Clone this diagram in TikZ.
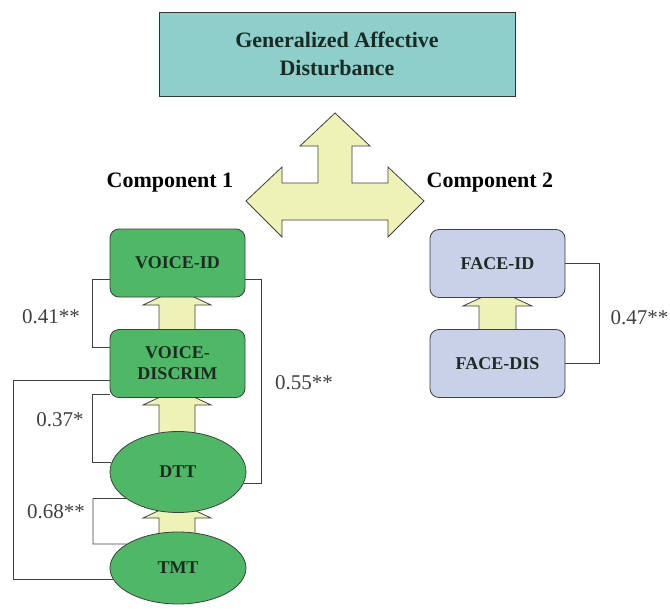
\documentclass[tikz,border=0pt]{standalone}
\usepackage{fontspec}
\setmainfont{Liberation Serif}
\usetikzlibrary{shapes.geometric}

\definecolor{gadteal}{HTML}{8FCFCB}
\definecolor{compgreen}{HTML}{4FB866}
\definecolor{facelav}{HTML}{C9D1E9}
\definecolor{arrowyel}{HTML}{EEF2B6}
\definecolor{inkdark}{HTML}{1C2A24}

\tikzset{
  blk/.style={draw=black!75,fill=arrowyel,line width=0.8pt,line join=miter},
  link/.style={draw=black!75,line width=0.9pt},
  coef/.style={text=black!75,font=\fontsize{21}{24}\selectfont}
}

\begin{document}
\begin{tikzpicture}[x=1pt,y=-1pt]
  \useasboundingbox (0,0) rectangle (670,613);

  % block arrows, behind the boxes
  \draw[blk] (335,113) -- (370,146) -- (352,146) -- (352,183) -- (388,183)
    -- (388,167) -- (424,201) -- (388,237) -- (388,220) -- (282,220)
    -- (282,237) -- (246,201) -- (282,167) -- (282,183) -- (318,183)
    -- (318,146) -- (300,146) -- cycle;
  \draw[blk] (159,334) -- (159,305) -- (143,305) -- (177,289) -- (211,305)
    -- (195,305) -- (195,334) -- cycle;
  \draw[blk] (159,438) -- (159,405) -- (143,405) -- (177,389) -- (211,405)
    -- (195,405) -- (195,438) -- cycle;
  \draw[blk] (159,540) -- (159,518) -- (143,518) -- (177,502) -- (211,518)
    -- (195,518) -- (195,540) -- cycle;
  \draw[blk] (479,334) -- (479,306) -- (463,306) -- (497.5,290) -- (532,306)
    -- (516,306) -- (516,334) -- cycle;

  \node[draw=black!80,fill=gadteal,line width=0.9pt,minimum width=356pt,
        minimum height=84pt,align=center,text=inkdark,
        font=\fontsize{22}{28}\selectfont\bfseries] (gad) at (337,54)
    {Generalized Affective\\Disturbance};

  \begin{scope}[every node/.style={font=\fontsize{22}{26}\selectfont\bfseries}]
    \node (comp1) at (170,183) {Component 1};
    \node (comp2) at (490,183) {Component 2};
  \end{scope}

  \begin{scope}[every node/.style={draw=black!75,line width=0.8pt,rounded corners=9pt,
      minimum width=135pt,minimum height=68pt,align=center,
      font=\fontsize{18}{21}\selectfont\bfseries}]
    \node[fill=compgreen,text=inkdark] (vid)  at (177.5,263)   {VOICE-ID};
    \node[fill=compgreen,text=inkdark] (vdis) at (177.5,363.5) {VOICE-\\DISCRIM};
    \node[fill=facelav,text=inkdark]   (fid)  at (497.5,263.5) {FACE-ID};
    \node[fill=facelav,text=inkdark]   (fdis) at (497.5,363.5) {FACE-DIS};
  \end{scope}

  \begin{scope}[every node/.style={draw=black!75,line width=0.8pt,ellipse,
      fill=compgreen,text=inkdark,minimum width=136pt,
      font=\fontsize{18}{21}\selectfont\bfseries}]
    \node[minimum height=81pt] (dtt) at (178,472) {DTT};
    \node[minimum height=72pt] (tmt) at (178,568) {TMT};
  \end{scope}

  % correlations
  \path[link] ([yshift=-16pt]vid.west) -- ++(-17pt,0) |- ([yshift=16pt]vdis.west);
  \path[link] ([yshift=-16pt]vid.east) -- ++(16pt,0) |- (dtt.-10);
  \path[link] ([yshift=3pt]vdis.south west) -- ++(-17pt,0) |- (dtt.172);
  \path[link] (dtt.207) -| (93,544) -- (tmt.155);
  \path[link] ([yshift=-16.5pt]vdis.west) -- ++(-96pt,0) |- (tmt.190);
  \path[link] (fid.east) -- ++(34pt,0) |- (fdis.east);

  \begin{scope}[every node/.style={coef}]
    \node (r41) at (51,317) {0.41**};
    \node (r55) at (304,383) {0.55**};
    \node (r37) at (60,420) {0.37*};
    \node (r68) at (56,512) {0.68**};
    \node[anchor=west] (r47) at (607,318) {0.47**};
  \end{scope}

\end{tikzpicture}
\end{document}
